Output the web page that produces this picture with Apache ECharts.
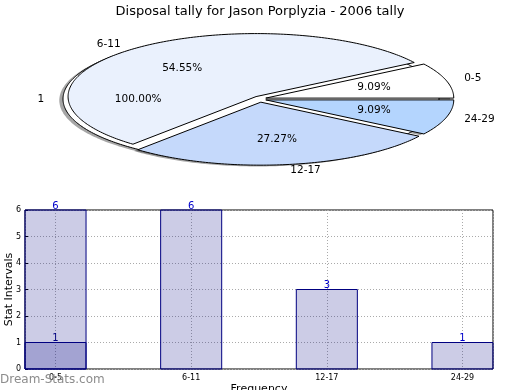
<!DOCTYPE html>
<html>
<head>
<meta charset="utf-8">
<script src="https://cdn.jsdelivr.net/npm/echarts@6/dist/echarts.min.js"></script>
<style>
html,body{margin:0;padding:0;background:#fff;}
#c{width:520px;height:390px;}
</style>
</head>
<body>
<div id="c"></div>
<script>
// ---- data ----
const titleText = 'Disposal tally for Jason Porplyzia - 2006 tally';
const pieCats = ['0-5', '6-11', '12-17', '24-29'];
const pieVals = [1, 6, 3, 1];
const basePieCats = ['1'];
const basePieVals = [1];
const barCats = ['0-5', '6-11', '12-17', '24-29'];
const barVals = [6, 6, 3, 1];
const overlayVals = [1];
const yTicks = [0, 1, 2, 3, 4, 5, 6];

// ---- layout / style ----
const FONT = 'DejaVu Sans';
const pieColors = ['#ffffff', '#eaf1fd', '#c5d9fb', '#b4d5fe'];
const baseColors = ['#ffffff'];
const RX = 188, RY = 63;
const HALF_BAR = 0.225;

function buildSlices(vals, cats, colors, cx, cy, ex, ey) {
  const tot = vals.reduce((a, b) => a + b, 0);
  let a = 0;
  return vals.map((v, i) => {
    const a0 = a, a1 = a + v / tot * 2 * Math.PI;
    a = a1;
    const m = (a0 + a1) / 2;
    return {
      name: cats[i], value: v, pct: v / tot * 100, a0: a0, a1: a1, mid: m,
      ox: cx + ex * Math.cos(m), oy: cy - ey * Math.sin(m), color: colors[i]
    };
  });
}
const baseSlices = buildSlices(basePieVals, basePieCats, baseColors, 260, 99, 9, 3.7);
const mainSlices = buildSlices(pieVals, pieCats, pieColors, 260, 99, 6, 3.2);
const allSlices = baseSlices.concat(mainSlices);

function ellPts(s, dx, dy) {
  const pts = [];
  const full = (s.a1 - s.a0) >= 2 * Math.PI - 1e-9;
  if (!full) pts.push([s.ox + dx, s.oy + dy]);
  const n = Math.max(8, Math.ceil((s.a1 - s.a0) / (Math.PI / 180)));
  for (let k = 0; k <= n; k++) {
    const t = s.a0 + (s.a1 - s.a0) * k / n;
    pts.push([s.ox + dx + RX * Math.cos(t), s.oy + dy - RY * Math.sin(t)]);
  }
  return pts;
}

function barRender(labelColor) {
  return function (params, api) {
    const x = api.value(0), y = api.value(1);
    const p0 = api.coord([x - HALF_BAR, 0]);
    const p1 = api.coord([x + HALF_BAR, y]);
    const cx = api.coord([x, y]);
    return {type: 'group', children: [
      {type: 'rect', shape: {x: p0[0], y: p1[1], width: p1[0] - p0[0], height: p0[1] - p1[1]},
        style: {fill: 'rgba(0,0,128,0.2)', stroke: '#000080', lineWidth: 1}},
      {type: 'text', z2: 10, style: {text: String(y), x: cx[0], y: cx[1] + 1, align: 'center', verticalAlign: 'bottom',
        font: '10px ' + FONT, fill: labelColor}}
    ]};
  };
}

const chart = echarts.init(document.getElementById('c'), null, {renderer: 'canvas'});

const option = {
  animation: false,
  backgroundColor: '#fff',
  title: {
    text: titleText, left: 'center', top: 0,
    textStyle: {fontFamily: FONT, fontSize: 13, fontWeight: 'normal', color: '#000'}
  },
  grid: {left: 25, right: 27, top: 210, bottom: 21, show: true, borderColor: '#000', borderWidth: 1,
    backgroundColor: 'transparent', containLabel: false, outerBoundsMode: 'none'},
  xAxis: {
    type: 'value', min: -HALF_BAR, max: 3 + HALF_BAR, splitNumber: 3,
    axisLine: {show: false, onZero: false}, axisTick: {show: false},
    axisLabel: {
      fontFamily: FONT, fontSize: 8, color: '#000', margin: 5,
      showMinLabel: false, showMaxLabel: false,
      formatter: function (v) {
        const r = Math.round(v);
        return (Math.abs(v - r) < 1e-6 && barCats[r] !== undefined) ? barCats[r] : '';
      }
    },
    splitLine: {show: true, lineStyle: {type: [1, 2], color: '#aaa', width: 1}},
    name: 'Frequency', nameLocation: 'middle', nameGap: 15,
    nameTextStyle: {fontFamily: FONT, fontSize: 11, color: '#000'}
  },
  yAxis: {
    type: 'value', min: yTicks[0], max: yTicks[yTicks.length - 1], interval: 1,
    axisLine: {show: false, onZero: false},
    axisTick: {show: true, inside: true, length: 3, lineStyle: {color: '#000'}},
    axisLabel: {fontFamily: FONT, fontSize: 8, color: '#000', margin: 4},
    splitLine: {show: true, lineStyle: {type: [1, 2], color: '#aaa', width: 1}},
    name: 'Stat Intervals', nameLocation: 'middle', nameGap: 10, nameRotate: 90, nameMoveOverlap: false,
    nameTextStyle: {fontFamily: FONT, fontSize: 11, color: '#000'}
  },
  graphic: [{
    type: 'text', left: 0, top: 374, z: 100,
    style: {text: 'Dream-Stats.com', font: '12px ' + FONT, fill: '#8c8c8c'}
  }],
  series: [
    {
      type: 'custom', name: 'tally', coordinateSystem: 'cartesian2d', z: 2, silent: true,
      data: barVals.map((v, i) => [i, v]),
      renderItem: barRender('#0000cc')
    },
    {
      type: 'custom', name: '1', coordinateSystem: 'cartesian2d', z: 3, silent: true,
      data: overlayVals.map((v, i) => [i, v]),
      renderItem: barRender('#000080')
    },
    {
      type: 'custom', coordinateSystem: 'none', z: 1, silent: true,
      data: allSlices.map((s, i) => [i, s.value]),
      renderItem: function (params) {
        const s = allSlices[params.dataIndex];
        return {type: 'polygon', shape: {points: ellPts(s, -3.7, 1.3)},
          style: {fill: 'rgba(77,77,77,0.5)', stroke: null}};
      }
    },
    {
      type: 'custom', coordinateSystem: 'none', z: 2, silent: true,
      data: allSlices.map((s, i) => [i, s.value]),
      renderItem: function (params) {
        const s = allSlices[params.dataIndex];
        return {type: 'polygon', shape: {points: ellPts(s, 0, 0)},
          style: {fill: s.color, stroke: '#000', lineWidth: 1}};
      }
    },
    {
      type: 'custom', coordinateSystem: 'none', z: 3, silent: true,
      data: allSlices.map((s, i) => [i, s.value]),
      renderItem: function (params) {
        const s = allSlices[params.dataIndex];
        const c = Math.cos(s.mid), sn = Math.sin(s.mid);
        const lx = s.ox + 1.1 * RX * c, ly = s.oy - 1.1 * RY * sn;
        const px = s.ox + 0.6 * RX * c, py = s.oy - 0.6 * RY * sn;
        return {type: 'group', children: [
          {type: 'text', style: {text: s.name, x: lx, y: ly, align: c < 0 ? 'right' : 'left',
            verticalAlign: 'middle', font: '10.5px ' + FONT, fill: '#000'}},
          {type: 'text', style: {text: s.pct.toFixed(2) + '%', x: px, y: py, align: 'center',
            verticalAlign: 'middle', font: '10.5px ' + FONT, fill: '#000'}}
        ]};
      }
    }
  ]
};
chart.setOption(option);
</script>
</body>
</html>
